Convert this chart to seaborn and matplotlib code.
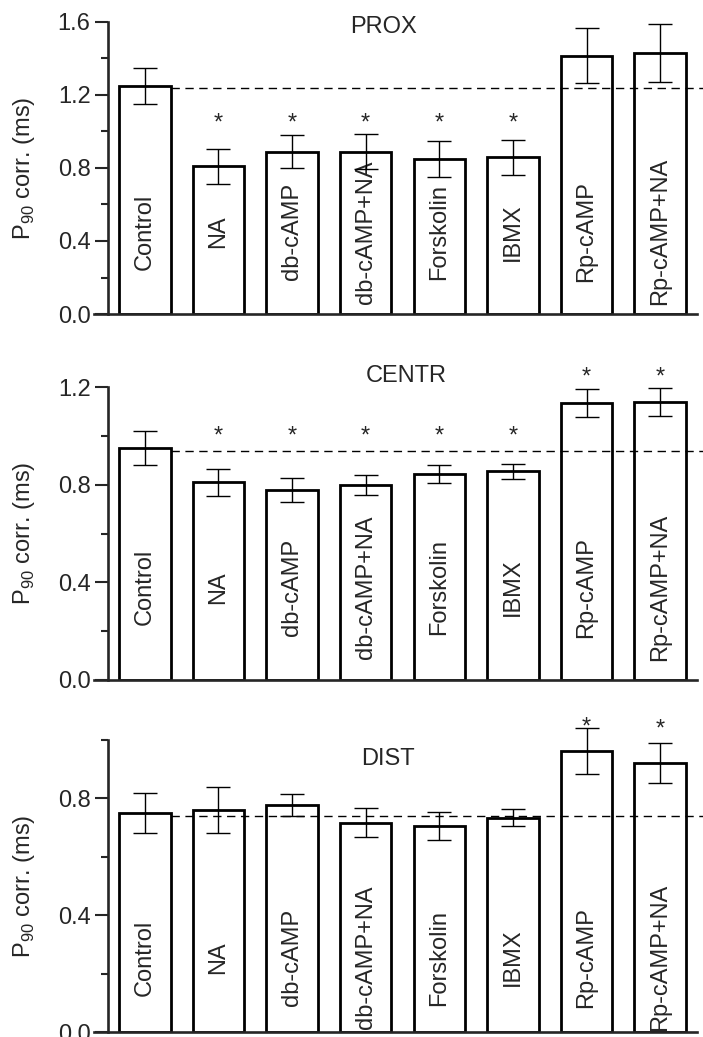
import numpy as np
import pandas as pd
import seaborn as sns
import matplotlib.pyplot as plt

# data
categories = ['Control', 'NA', 'db-cAMP', 'db-cAMP+NA', 'Forskolin', 'IBMX', 'Rp-cAMP', 'Rp-cAMP+NA']

prox_mean = [1.25, 0.81, 0.89, 0.89, 0.85, 0.86, 1.415, 1.43]
prox_err = [0.10, 0.095, 0.09, 0.098, 0.10, 0.096, 0.15, 0.157]
prox_sig = [0, 1, 1, 1, 1, 1, 0, 0]

centr_mean = [0.95, 0.81, 0.78, 0.80, 0.845, 0.855, 1.135, 1.14]
centr_err = [0.07, 0.057, 0.05, 0.04, 0.038, 0.03, 0.058, 0.058]
centr_sig = [0, 1, 1, 1, 1, 1, 1, 1]

dist_mean = [0.75, 0.76, 0.777, 0.717, 0.706, 0.734, 0.963, 0.922]
dist_err = [0.067, 0.078, 0.038, 0.05, 0.047, 0.029, 0.079, 0.069]
dist_sig = [0, 0, 0, 0, 0, 0, 1, 1]

titles = ['PROX', 'CENTR', 'DIST']
ref_lines = [1.24, 0.94, 0.74]

# layout per panel
panels = [
    dict(mean=prox_mean, err=prox_err, sig=prox_sig, ymax=1.6, bottom=0.6972, h=0.2816,
         title_xy=(3.24, 1.575), label_y=0.45, star_y=[1.085] * 8),
    dict(mean=centr_mean, err=centr_err, sig=centr_sig, ymax=1.2, bottom=0.3443, h=0.2822,
         title_xy=(3.55, 1.245), label_y=0.38, star_y=[1.03] * 6 + [1.274, 1.274]),
    dict(mean=dist_mean, err=dist_err, sig=dist_sig, ymax=1.0, bottom=0.0048, h=0.2816,
         title_xy=(3.30, 0.935), label_y=0.255, star_y=[1.07] * 7 + [1.063]),
]

sns.set_style('ticks')
plt.rcParams['font.family'] = ['Liberation Sans', 'DejaVu Sans']
plt.rcParams['mathtext.fontset'] = 'custom'
plt.rcParams['mathtext.rm'] = 'Liberation Sans'

fs = 17
fig = plt.figure(figsize=(7.03, 10.37), dpi=100)

for k, p in enumerate(panels):
    ax = fig.add_axes([0.1337, p['bottom'], 0.8578, p['h']])
    df = pd.DataFrame({'cond': categories, 'val': p['mean']})
    sns.barplot(data=df, x='cond', y='val', color='white', saturation=1,
                edgecolor='black', linewidth=2.0, width=0.7, errorbar=None, ax=ax)
    ax.errorbar(np.arange(len(categories)), p['mean'], yerr=p['err'], fmt='none',
                ecolor='black', elinewidth=1.0, capsize=8.3, capthick=1.0, clip_on=False, zorder=5)

    # reference line at control level
    ax.hlines(ref_lines[k], 0.36, 7.58, colors='black', linewidth=1.0,
              linestyles=(0, (6, 4)), clip_on=False, zorder=4)

    # category names inside bars
    for i, name in enumerate(categories):
        ax.text(i, p['label_y'], name, rotation=90, ha='center', va='center', fontsize=fs)
        if p['sig'][i]:
            ax.annotate('*', (i, p['star_y'][i]), xytext=(0, -10), textcoords='offset points',
                        ha='center', va='baseline', fontsize=fs, annotation_clip=False)

    ax.text(p['title_xy'][0], p['title_xy'][1], titles[k], ha='center', va='center', fontsize=fs)

    ax.set_xticks([])
    ax.set_xlabel('')
    ax.set_xlim(-0.69, 7.5)
    ax.set_ylim(0, p['ymax'])
    ax.set_yticks(np.arange(0, p['ymax'] + 0.01, 0.4))
    ax.set_yticks(np.arange(0.2, p['ymax'] + 0.01, 0.4), minor=True)
    ax.set_yticklabels([f'{v:.1f}' for v in np.arange(0, p['ymax'] + 0.01, 0.4)])
    ax.tick_params(axis='y', which='major', length=9.5, width=1.5, labelsize=fs, pad=3, direction='out')
    ax.tick_params(axis='y', which='minor', length=5, width=1.5, direction='out')
    ax.set_ylabel(r'P$_{\mathregular{90}}$ corr. (ms)', fontsize=fs)
    ax.yaxis.set_label_coords(-0.095, 0.5)

    ax.spines['left'].set_position(('data', -0.5))
    for side in ['top', 'right']:
        ax.spines[side].set_visible(False)
    for side in ['left', 'bottom']:
        ax.spines[side].set_linewidth(1.9)
    ax.patch.set_alpha(0)

fig.savefig('out.png', dpi=100)
